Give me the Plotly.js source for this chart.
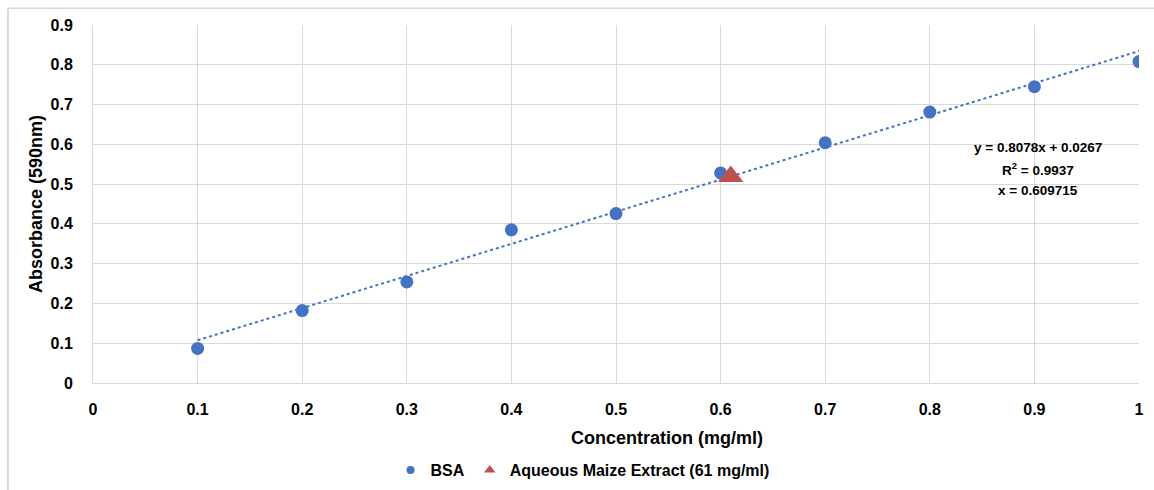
<!DOCTYPE html>
<html>
<head>
<meta charset="utf-8">
<script src="https://cdn.plot.ly/plotly-3.0.1.min.js"></script>
<style>
html,body{margin:0;padding:0;background:#fff;}
#chart{width:1154px;height:490px;}
</style>
</head>
<body>
<div id="chart"></div>
<script>
// Data
const concentration = [0.1, 0.2, 0.3, 0.4, 0.5, 0.6, 0.7, 0.8, 0.9, 1.0];
const absorbance = [0.087, 0.182, 0.254, 0.385, 0.426, 0.528, 0.604, 0.681, 0.745, 0.808];
const extractX = [0.609715];
const extractY = [0.519];
const slope = 0.8078;
const intercept = 0.0267;
const trendX = [0.1, 1.0];
const xTicks = [0, 0.1, 0.2, 0.3, 0.4, 0.5, 0.6, 0.7, 0.8, 0.9, 1];
const xTickLabels = ["0", "0.1", "0.2", "0.3", "0.4", "0.5", "0.6", "0.7", "0.8", "0.9", "1"];
const yTicks = [0, 0.1, 0.2, 0.3, 0.4, 0.5, 0.6, 0.7, 0.8, 0.9];
const yTickLabels = ["0", "0.1", "0.2", "0.3", "0.4", "0.5", "0.6", "0.7", "0.8", "0.9"];
const equationLines = ["y = 0.8078x + 0.0267", "R<sup>2</sup> = 0.9937", "x = 0.609715"];
const seriesNames = ["BSA", "Aqueous Maize Extract (61 mg/ml)"];

const trendY = trendX.map(x => slope * x + intercept);
const FONT = "Liberation Sans, Arial, sans-serif";
const BLUE = '#4472C4', RED = '#C0504D';

const traces = [
  {
    x: trendX, y: trendY, type: 'scatter', mode: 'lines',
    line: {color: BLUE, width: 2, dash: 'dot'},
    showlegend: false, hoverinfo: 'skip'
  },
  {
    x: concentration, y: absorbance, type: 'scatter', mode: 'markers',
    name: seriesNames[0], showlegend: false,
    marker: {color: BLUE, size: 13, symbol: 'circle'}
  },
  {
    x: extractX, y: extractY, type: 'scatter', mode: 'markers',
    name: seriesNames[1], showlegend: false,
    marker: {color: RED, size: 22, symbol: 'triangle-up'}
  },
  // legend entries (small markers as in the reference legend)
  {
    x: [null], y: [null], type: 'scatter', mode: 'markers',
    name: '<b>' + seriesNames[0] + '</b>',
    marker: {color: BLUE, size: 8, symbol: 'circle'}
  },
  {
    x: [null], y: [null], type: 'scatter', mode: 'markers',
    name: '<b>' + seriesNames[1] + '</b>',
    marker: {color: RED, size: 10, symbol: 'triangle-up'}
  }
];

const eqY = [0.593, 0.538, 0.483];

const layout = {
  width: 1154, height: 490,
  margin: {l: 93, r: 15, t: 25, b: 107, autoexpand: false},
  paper_bgcolor: '#ffffff', plot_bgcolor: '#ffffff',
  font: {family: FONT, color: '#000000'},
  xaxis: {
    range: [0, 1], tickvals: xTicks, ticktext: xTickLabels,
    showgrid: true, gridcolor: '#d9d9d9', gridwidth: 1,
    zeroline: false, showline: true, linecolor: '#d9d9d9', linewidth: 1,
    ticks: '', ticklabelstandoff: 12,
    tickfont: {family: FONT, size: 16, color: '#000', weight: 'bold'},
    fixedrange: true
  },
  yaxis: {
    range: [0, 0.9], tickvals: yTicks, ticktext: yTickLabels,
    showgrid: true, gridcolor: '#d9d9d9', gridwidth: 1,
    zeroline: false, showline: true, linecolor: '#d9d9d9', linewidth: 1,
    ticks: '', ticklabelstandoff: 16,
    tickfont: {family: FONT, size: 16, color: '#000', weight: 'bold'},
    title: {text: '<b>Absorbance (590nm)</b>', font: {family: FONT, size: 18, color: '#000'}, standoff: 3},
    fixedrange: true
  },
  legend: {
    orientation: 'h', x: 0.468, xanchor: 'center', y: -0.243, yanchor: 'middle',
    font: {family: FONT, size: 16, color: '#000'},
    itemsizing: 'trace', itemwidth: 30, tracegroupgap: 0
  },
  annotations: [
    {
      xref: 'paper', yref: 'paper', x: 0.549, y: -0.154,
      text: '<b>Concentration (mg/ml)</b>', showarrow: false,
      xanchor: 'center', yanchor: 'middle',
      font: {family: FONT, size: 18, color: '#000'}
    }
  ].concat(equationLines.map((l, i) => ({
      xref: 'x', yref: 'y', x: 0.903, y: eqY[i],
      text: '<b>' + l + '</b>',
      showarrow: false, align: 'center', xanchor: 'center', yanchor: 'middle',
      font: {family: FONT, size: 13.5, color: '#000'}
  }))),
  shapes: [
    {type: 'line', xref: 'paper', yref: 'paper', x0: -0.0813, x1: -0.0813, y0: 1.047, y1: -0.31,
     line: {color: '#d9d9d9', width: 2}},
    {type: 'line', xref: 'paper', yref: 'paper', x0: -0.0813, x1: 1.02, y0: 1.047, y1: 1.047,
     line: {color: '#d9d9d9', width: 1.5}}
  ]
};

Plotly.newPlot('chart', traces, layout, {displayModeBar: false, staticPlot: true});
</script>
</body>
</html>
